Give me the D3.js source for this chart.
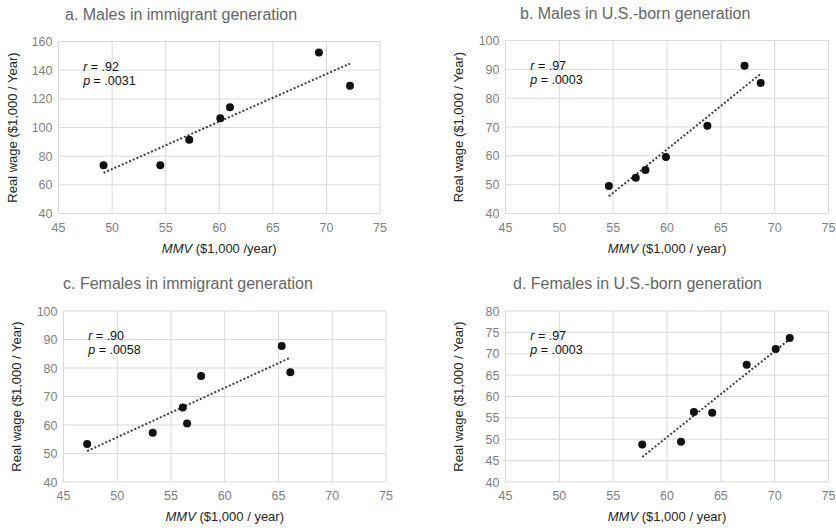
<!DOCTYPE html>
<html>
<head>
<meta charset="utf-8">
<script src="https://cdn.jsdelivr.net/npm/d3@7"></script>
<style>
  body { margin: 0; background: #fff; }
  svg { display: block; font-family: "Liberation Sans", Arial, sans-serif; }
</style>
</head>
<body>
<div id="chart"></div>
<script>
const width = 836;
const height = 532;

// panel a: males, immigrant generation
const maleImmMMV = [49.2, 54.5, 57.2, 60.1, 61.0, 69.3, 72.2];
const maleImmWage = [73.6, 73.6, 91.5, 106.4, 114.1, 152.3, 129.2];
// panel b: males, U.S.-born generation
const maleUSMMV = [54.6, 57.1, 58.0, 59.9, 63.75, 67.2, 68.7];
const maleUSWage = [49.5, 52.4, 55.1, 59.6, 70.4, 91.2, 85.3];
// panel c: females, immigrant generation
const femImmMMV = [47.2, 53.3, 56.1, 56.5, 57.8, 65.3, 66.1];
const femImmWage = [53.3, 57.3, 66.1, 60.5, 77.2, 87.7, 78.5];
// panel d: females, U.S.-born generation
const femUSMMV = [57.7, 61.3, 62.5, 64.2, 67.4, 70.1, 71.4];
const femUSWage = [48.8, 49.4, 56.4, 56.2, 67.4, 71.1, 73.7];

const xTicks = [45, 50, 55, 60, 65, 70, 75];
const titles = [
	"a. Males in immigrant generation",
	"b. Males in U.S.-born generation",
	"c. Females in immigrant generation",
	"d. Females in U.S.-born generation",
];
const xLabels = [" ($1,000 /year)", " ($1,000 / year)", " ($1,000 / year)", " ($1,000 / year)"];
const yLabel = "Real wage ($1,000 / Year)";
const rValues = [".92", ".97", ".90", ".97"];
const pValues = [".0031", ".0003", ".0058", ".0003"];
const yDomains = [[40, 160], [40, 100], [40, 100], [40, 80]];
const yStepList = [20, 10, 10, 5];

const panels = [
	{ x: maleImmMMV, y: maleImmWage, left: 58.5, top: 41.5, right: 380, bottom: 213.5, titleX: 65, ylabX: 17 },
	{ x: maleUSMMV, y: maleUSWage, left: 505.5, top: 40.5, right: 828.5, bottom: 213.5, titleX: 520, ylabX: 463 },
	{ x: femImmMMV, y: femImmWage, left: 63.5, top: 311, right: 386, bottom: 482, titleX: 63, ylabX: 21 },
	{ x: femUSMMV, y: femUSWage, left: 505.5, top: 311, right: 828.5, bottom: 482, titleX: 513, ylabX: 463 },
];

const svg = d3
	.select("#chart")
	.append("svg")
	.attr("width", width)
	.attr("height", height);

panels.forEach((p, i) => {
	const g = svg.append("g");
	const x = d3.scaleLinear().domain([45, 75]).range([p.left, p.right]);
	const [y0, y1] = yDomains[i];
	const y = d3.scaleLinear().domain([y0, y1]).range([p.bottom, p.top]);
	const yTicks = d3.range(y0, y1 + 0.001, yStepList[i]);

	// grid
	g.selectAll(".vgrid")
		.data(xTicks)
		.join("line")
		.attr("x1", d => x(d))
		.attr("x2", d => x(d))
		.attr("y1", p.top)
		.attr("y2", p.bottom)
		.attr("stroke", "#d9d9d9")
		.attr("stroke-width", 1);
	g.selectAll(".hgrid")
		.data(yTicks)
		.join("line")
		.attr("x1", p.left)
		.attr("x2", p.right)
		.attr("y1", d => y(d))
		.attr("y2", d => y(d))
		.attr("stroke", "#d9d9d9")
		.attr("stroke-width", 1);

	// tick labels
	g.selectAll(".xt")
		.data(xTicks)
		.join("text")
		.attr("x", d => x(d))
		.attr("y", p.bottom + 18)
		.attr("text-anchor", "middle")
		.attr("font-size", 12.5)
		.attr("fill", "#7f7f7f")
		.text(d => d);
	g.selectAll(".yt")
		.data(yTicks)
		.join("text")
		.attr("x", p.left - 6)
		.attr("y", d => y(d) + 4.5)
		.attr("text-anchor", "end")
		.attr("font-size", 12.5)
		.attr("fill", "#7f7f7f")
		.text(d => d);

	// title
	g.append("text")
		.attr("x", p.titleX)
		.attr("y", p.top - 22)
		.attr("font-size", 16)
		.attr("fill", "#666")
		.text(titles[i]);

	// axis labels
	const xl = g.append("text")
		.attr("x", (p.left + p.right) / 2)
		.attr("y", p.bottom + 39)
		.attr("text-anchor", "middle")
		.attr("font-size", 13)
		.attr("fill", "#262626");
	xl.append("tspan").attr("font-style", "italic").text("MMV");
	xl.append("tspan").text(xLabels[i]);

	g.append("text")
		.attr("transform", `translate(${p.ylabX},${(p.top + p.bottom) / 2}) rotate(-90)`)
		.attr("text-anchor", "middle")
		.attr("font-size", 13)
		.attr("fill", "#262626")
		.text(yLabel);

	// stats
	const tx = x(47.3);
	const ty = p.top + 29;
	const r = g.append("text").attr("x", tx).attr("y", ty).attr("font-size", 12.5).attr("fill", "#111");
	r.append("tspan").attr("font-style", "italic").text("r");
	r.append("tspan").text(" = " + rValues[i]);
	const pv = g.append("text").attr("x", tx).attr("y", ty + 14).attr("font-size", 12.5).attr("fill", "#111");
	pv.append("tspan").attr("font-style", "italic").text("p");
	pv.append("tspan").text(" = " + pValues[i]);

	// least-squares trend line
	const mx = d3.mean(p.x);
	const my = d3.mean(p.y);
	const slope = d3.sum(p.x, (v, k) => (v - mx) * (p.y[k] - my)) / d3.sum(p.x, v => (v - mx) ** 2);
	const ext = d3.extent(p.x);
	const line = d3.line().x(d => x(d)).y(d => y(my + slope * (d - mx)));
	g.append("path")
		.attr("d", line(ext))
		.attr("fill", "none")
		.attr("stroke", "#404040")
		.attr("stroke-width", 2)
		.attr("stroke-dasharray", "2,2");

	// points
	g.selectAll(".pt")
		.data(p.x)
		.join("circle")
		.attr("cx", d => x(d))
		.attr("cy", (d, k) => y(p.y[k]))
		.attr("r", 4)
		.attr("fill", "#111");
});
</script>
</body>
</html>
